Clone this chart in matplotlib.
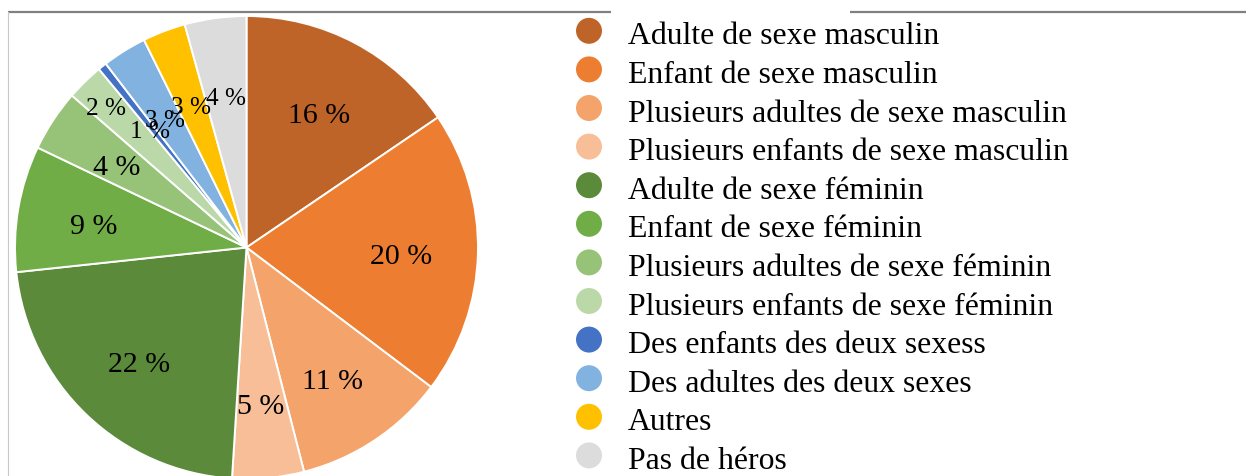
import numpy as np
import matplotlib
matplotlib.use("Agg")
import matplotlib.pyplot as plt

categories = [
    "Adulte de sexe masculin",
    "Enfant de sexe masculin",
    "Plusieurs adultes de sexe masculin",
    "Plusieurs enfants de sexe masculin",
    "Adulte de sexe féminin",
    "Enfant de sexe féminin",
    "Plusieurs adultes de sexe féminin",
    "Plusieurs enfants de sexe féminin",
    "Des enfants des deux sexess",
    "Des adultes des deux sexes",
    "Autres",
    "Pas de héros",
]
values = [15.5, 19.8, 10.7, 5.0, 22.3, 8.8, 4.3, 2.6, 0.6, 3.1, 3.0, 4.3]
pct_labels = ["16 %", "20 %", "11 %", "5 %", "22 %", "9 %", "4 %", "2 %", "1 %", "3 %", "3 %", "4 %"]
colors = ["#BF6428", "#ED7D31", "#F4A36A", "#F7BE98", "#5A8A3A", "#70AD47",
          "#96C378", "#BBD9A8", "#4472C4", "#82B2E0", "#FFC000", "#DCDCDC"]

W, H = 1246, 477
fig = plt.figure(figsize=(W / 100, H / 100), dpi=100)
ax = fig.add_axes([0, 0, 1, 1])

def Y(y_img):
    return H - y_img

cx, cy, R = 246.5, Y(248.5), 231.5
wedges, _ = ax.pie(values, colors=colors, startangle=90, counterclock=False,
                   center=(cx, cy), radius=R, frame=True,
                   wedgeprops=dict(edgecolor="white", linewidth=1.4))
ax.set_xlim(0, W)
ax.set_ylim(0, H)
ax.set_aspect("equal")
ax.axis("off")

font = "Liberation Serif"
small = {7, 8, 9, 10, 11}
for i, w in enumerate(wedges):
    ang = np.deg2rad((w.theta1 + w.theta2) / 2)
    dist = 0.87 if i == 7 else 0.67
    x = cx + dist * R * np.cos(ang)
    y = cy + dist * R * np.sin(ang) - 4.5
    fs = 18.2 if i in small else 21.5
    ax.text(x, y, pct_labels[i], ha="center", va="center", fontsize=fs,
            family=font, color="black")

# legend
x_mark, x_text = 589, 628
y0, pitch = 31.8, 38.6
for i, (lab, col) in enumerate(zip(categories, colors)):
    yc = y0 + i * pitch
    ax.scatter([x_mark], [Y(yc)], s=18.7 ** 2, color=col, edgecolors="none",
               clip_on=False, zorder=3)
    ax.text(x_text, Y(yc + 12.6), lab, ha="left", va="baseline",
            fontsize=22.9, family=font, color="black")

# frame lines
ax.plot([8, 611], [Y(13), Y(13)], color="#808080", lw=1.6, solid_capstyle="butt", clip_on=False)
ax.plot([850, W], [Y(13), Y(13)], color="#808080", lw=1.6, solid_capstyle="butt", clip_on=False)
ax.plot([8, 8], [Y(13), 0], color="#C8C8C8", lw=0.8, clip_on=False)

fig.savefig("out.png", dpi=100)
